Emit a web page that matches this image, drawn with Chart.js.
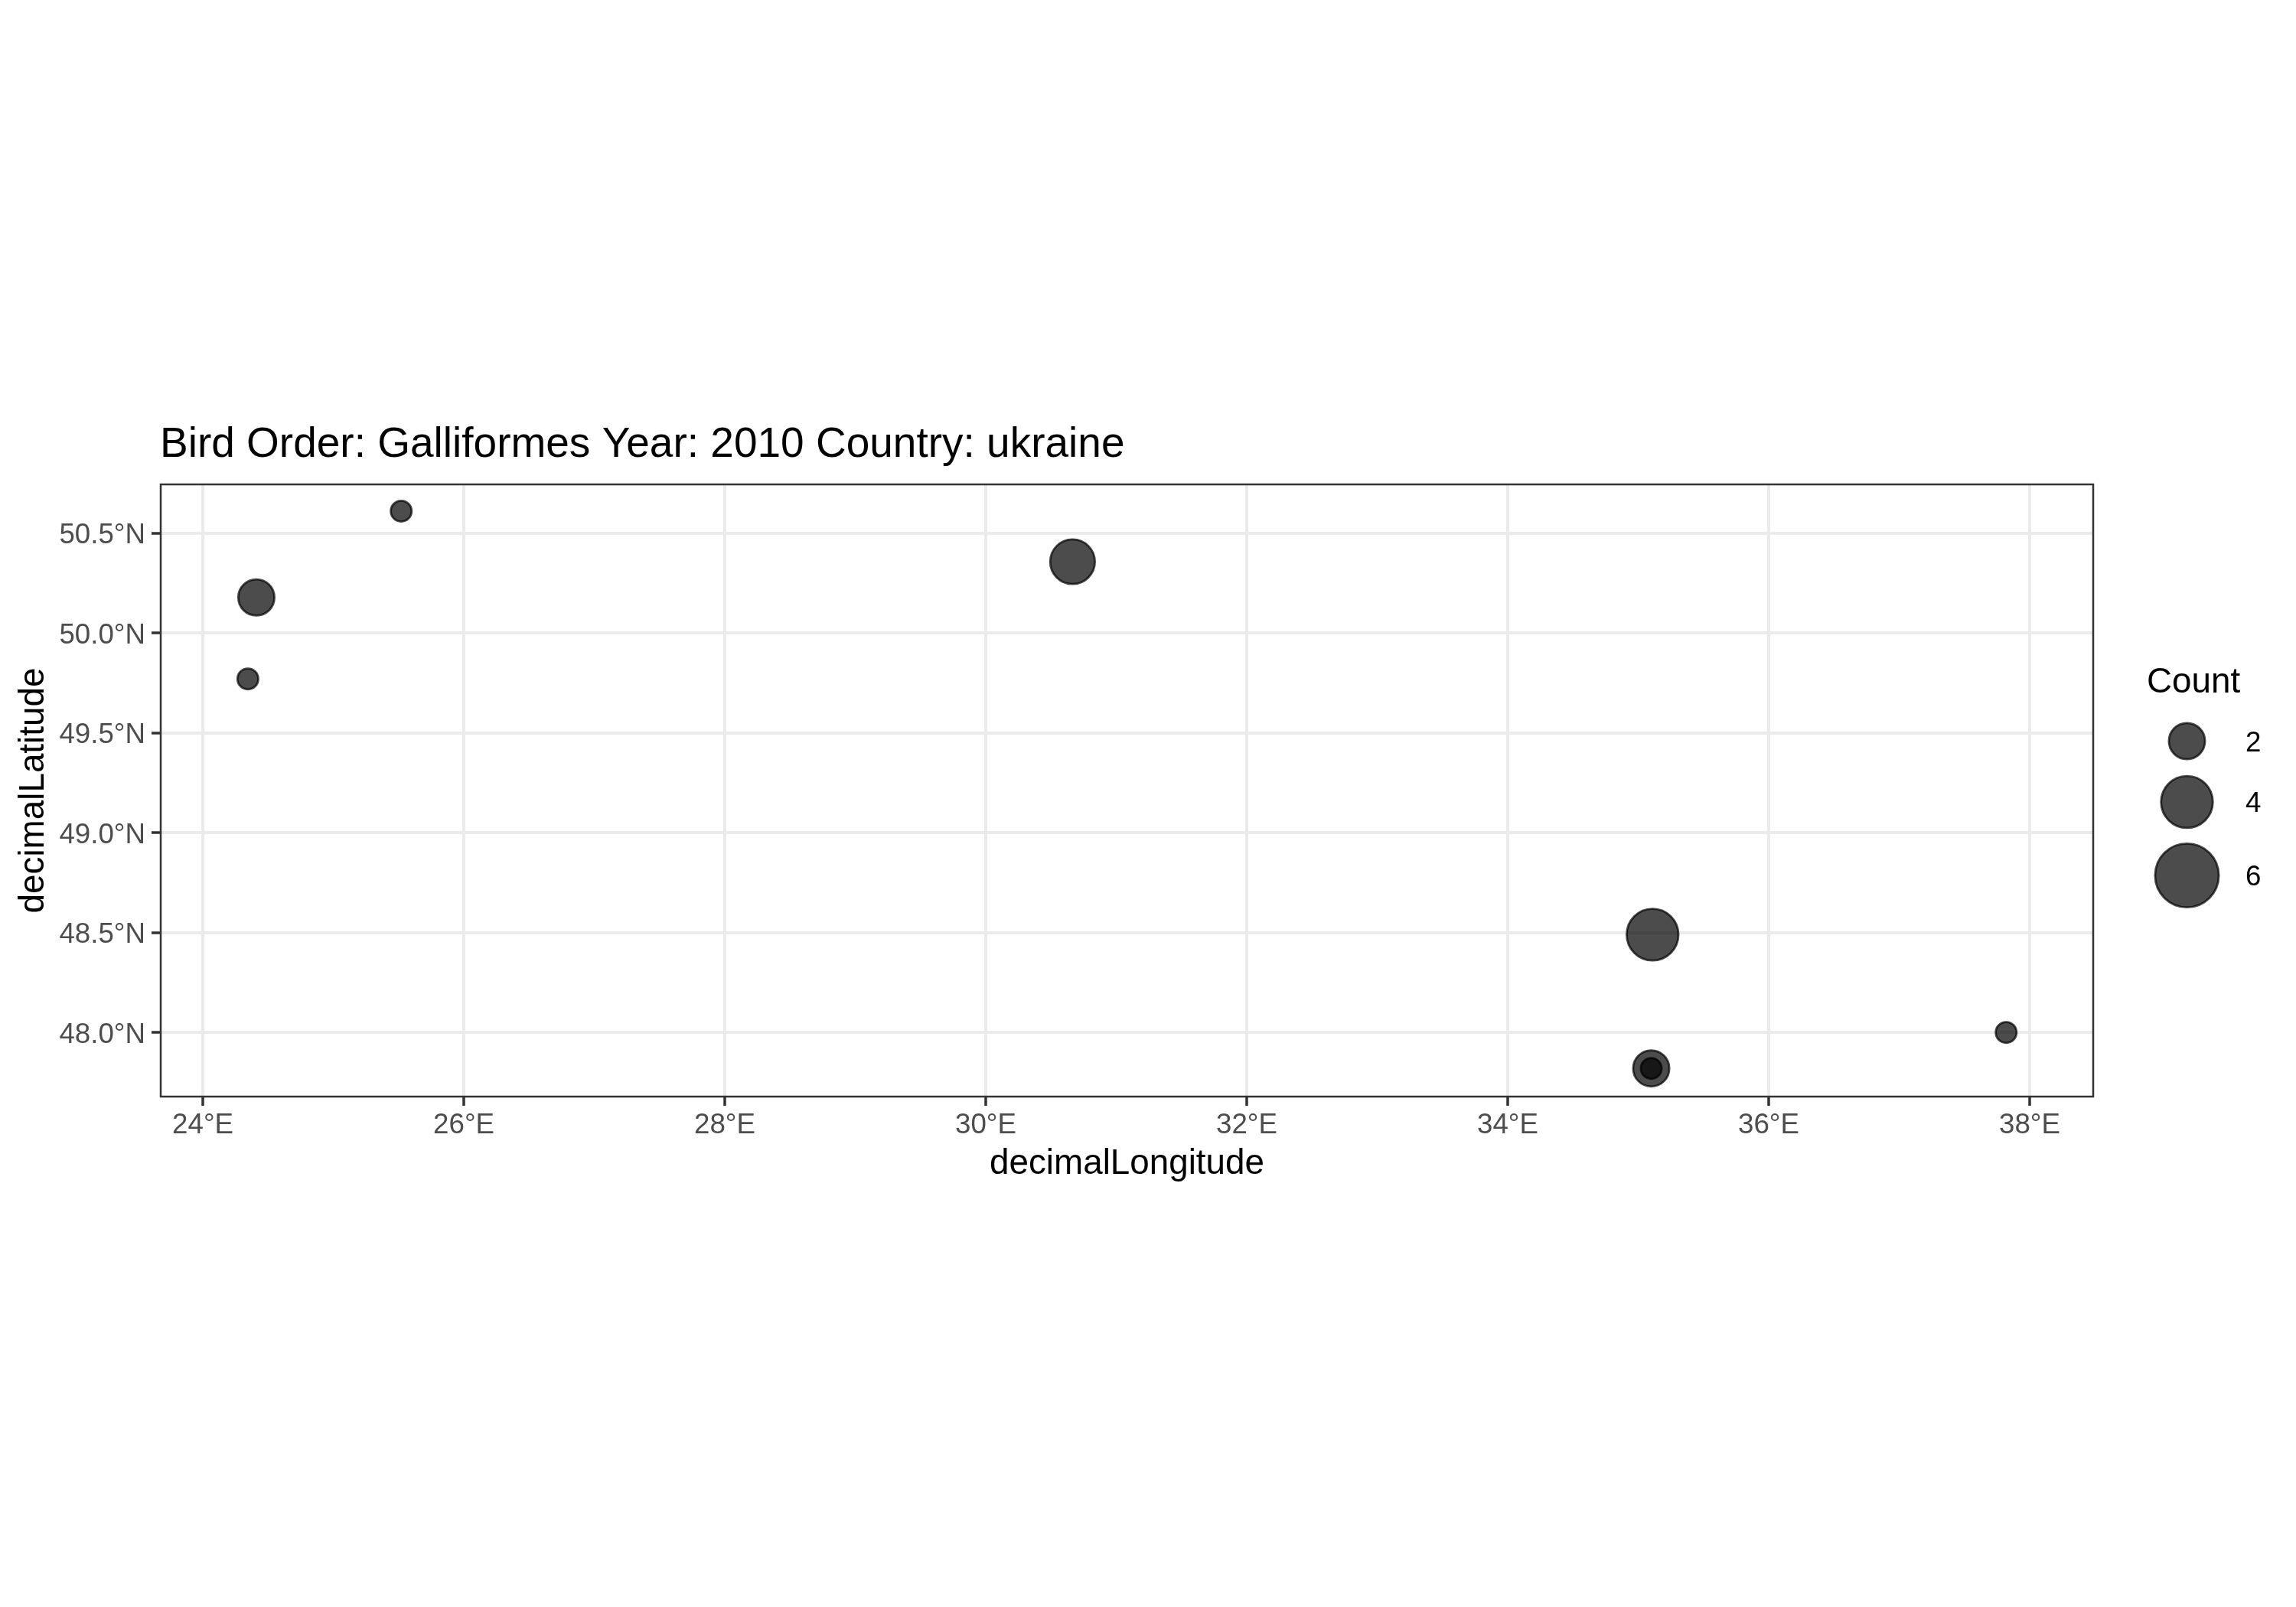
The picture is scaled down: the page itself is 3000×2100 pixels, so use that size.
<!DOCTYPE html>
<html>
<head>
<meta charset="utf-8">
<title>Bird Order: Galliformes Year: 2010 Country: ukraine</title>
<script src="https://cdn.jsdelivr.net/npm/chart.js@4/dist/chart.umd.min.js"></script>
<style>
    html, body { margin: 0; padding: 0; background: #ffffff; }
    canvas { display: block; }
</style>
</head>
<body>
<canvas id="chart" width="3000" height="2100"></canvas>
<script>
// Data
const longitudes = [25.52, 24.41, 24.345, 30.665, 35.11, 37.82, 35.10, 35.10];
const latitudes = [50.61, 50.178, 49.77, 50.357, 48.49, 48.0, 47.82, 47.82];
const counts = [1, 2, 1, 3, 4, 1, 2, 1];

const xTickValues = [24, 26, 28, 30, 32, 34, 36, 38];
const xTickLabels = ['24°E', '26°E', '28°E', '30°E', '32°E', '34°E', '36°E', '38°E'];
const yTickValues = [48, 48.5, 49, 49.5, 50, 50.5];
const yTickLabels = ['48.0°N', '48.5°N', '49.0°N', '49.5°N', '50.0°N', '50.5°N'];

const legendCounts = [2, 4, 6];

const chartTitle = 'Bird Order: Galliformes Year: 2010 Country: ukraine';
const xTitle = 'decimalLongitude';
const yTitle = 'decimalLatitude';
const legendTitle = 'Count';

const FONT = '"Liberation Sans", Arial, sans-serif';
const POINT_FILL = 'rgba(0, 0, 0, 0.7)';
const STROKE_WIDTH = 2.8;

// size scale, fitted to the circles measured in the legend
function radiusForCount(count) {
    return 15 + 28 * Math.pow((count - 1) / 5, 0.64) - STROKE_WIDTH / 2;
}

// small nudges that the title and y tick options have no setting for
const textNudge = {
    id: 'textNudge',
    beforeDraw(chart) {
        chart.titleBlock.left = chart.chartArea.left - 1;
        chart.scales.y.getLabelItems().forEach(item => {
            item.options.translation = [item.options.translation[0], item.options.translation[1] + 3.5];
        });
    }
};

const panelBorder = {
    id: 'panelBorder',
    afterDatasetsDraw(chart) {
        const { ctx, chartArea } = chart;
        ctx.save();
        ctx.strokeStyle = '#333333';
        ctx.lineWidth = 2.5;
        ctx.strokeRect(chartArea.left, chartArea.top, chartArea.right - chartArea.left, chartArea.bottom - chartArea.top);
        ctx.restore();
    }
};

const sizeLegend = {
    id: 'sizeLegend',
    afterDraw(chart) {
        const { ctx } = chart;
        const centerYs = [968.5, 1048, 1144];
        ctx.save();
        ctx.fillStyle = '#000000';
        ctx.font = `45.8px ${FONT}`;
        ctx.textAlign = 'left';
        ctx.textBaseline = 'alphabetic';
        ctx.fillText(legendTitle, 2805, 905);

        legendCounts.forEach((count, i) => {
            ctx.beginPath();
            ctx.arc(2857.5, centerYs[i], radiusForCount(count), 0, Math.PI * 2);
            ctx.fillStyle = POINT_FILL;
            ctx.fill();
            ctx.strokeStyle = POINT_FILL;
            ctx.lineWidth = STROKE_WIDTH;
            ctx.stroke();

            ctx.fillStyle = '#000000';
            ctx.font = `36.7px ${FONT}`;
            ctx.textBaseline = 'middle';
            ctx.fillText(String(count), 2934, centerYs[i] + 3);
        });
        ctx.restore();
    }
};

new Chart(document.getElementById('chart').getContext('2d'), {
    type: 'bubble',
    data: {
        datasets: [{
            data: longitudes.map((lon, i) => ({ x: lon, y: latitudes[i], r: radiusForCount(counts[i]) })),
            backgroundColor: POINT_FILL,
            borderColor: POINT_FILL,
            borderWidth: STROKE_WIDTH,
            hoverBorderWidth: STROKE_WIDTH
        }]
    },
    options: {
        responsive: false,
        devicePixelRatio: 1,
        animation: false,
        events: [],
        layout: { padding: { left: 0, top: 0, right: 265, bottom: 0 } },
        plugins: {
            legend: { display: false },
            tooltip: { enabled: false },
            title: {
                display: true,
                text: chartTitle,
                align: 'start',
                fullSize: false,
                color: '#000000',
                font: { family: FONT, size: 55, weight: 'normal', lineHeight: 1.2 },
                padding: { top: 549, bottom: 18 }
            }
        },
        scales: {
            x: {
                type: 'linear',
                min: 23.677,
                max: 38.487,
                afterBuildTicks(scale) {
                    scale.ticks = xTickValues.map(value => ({ value }));
                },
                afterFit(scale) {
                    scale.height = 667;
                },
                border: { display: false },
                grid: { color: '#ebebeb', lineWidth: 4, tickColor: '#333333', tickWidth: 3.5, tickLength: 12 },
                ticks: {
                    color: '#4d4d4d',
                    padding: 4,
                    autoSkip: false,
                    maxRotation: 0,
                    font: { family: FONT, size: 36.7 },
                    callback: value => xTickLabels[xTickValues.indexOf(value)]
                },
                title: {
                    display: true,
                    text: xTitle,
                    color: '#000000',
                    font: { family: FONT, size: 45.8, weight: 'normal', lineHeight: 1.2 },
                    padding: { top: 0, bottom: 551 }
                }
            },
            y: {
                type: 'linear',
                min: 47.679,
                max: 50.744,
                afterBuildTicks(scale) {
                    scale.ticks = yTickValues.map(value => ({ value }));
                },
                afterFit(scale) {
                    scale.width = 210;
                },
                border: { display: false },
                grid: { color: '#ebebeb', lineWidth: 4, tickColor: '#333333', tickWidth: 3.5, tickLength: 12 },
                ticks: {
                    color: '#4d4d4d',
                    padding: 8,
                    autoSkip: false,
                    font: { family: FONT, size: 36.7 },
                    callback: value => yTickLabels[yTickValues.indexOf(value)]
                },
                title: {
                    display: true,
                    text: yTitle,
                    color: '#000000',
                    font: { family: FONT, size: 45.8, weight: 'normal', lineHeight: 1.2 },
                    padding: { top: 17, bottom: 15 }
                }
            }
        }
    },
    plugins: [textNudge, panelBorder, sizeLegend]
});
</script>
</body>
</html>
